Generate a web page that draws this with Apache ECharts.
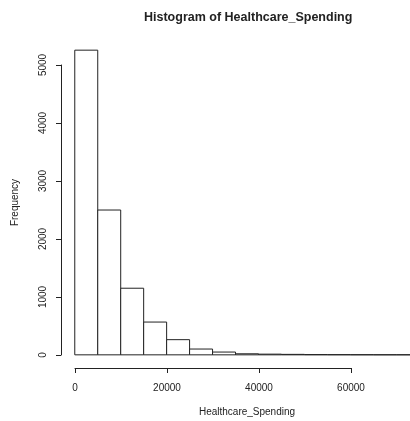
<!DOCTYPE html>
<html>
<head>
<meta charset="utf-8">
<script src="https://cdn.jsdelivr.net/npm/echarts@6/dist/echarts.min.js"></script>
<style>
  html, body { margin: 0; padding: 0; background: #fff; }
  #main { width: 410px; height: 421px; }
</style>
</head>
<body>
<div id="main"></div>
<script>
// histogram bins (break points) and counts
const breaks = [0, 5000, 10000, 15000, 20000, 25000, 30000, 35000, 40000, 45000, 50000, 55000, 60000, 65000, 70000, 75000]
const counts = [5260, 2500, 1150, 566, 262, 100, 48, 18, 12, 8, 4, 3, 2, 1, 1]

const titleText = 'Histogram of Healthcare_Spending'
const xName = 'Healthcare_Spending'
const yName = 'Frequency'

const ink = '#222'
const font = 'Liberation Sans, Arial, sans-serif'

const bins = counts.map((c, i) => [breaks[i], breaks[i + 1], c])

const chart = echarts.init(document.getElementById('main'))

const option = {
  animation: false,
  backgroundColor: '#fff',
  title: {
    text: titleText,
    left: 139,
    top: 6,
    textStyle: { fontFamily: font, fontSize: 12.5, fontWeight: 'bold', color: ink }
  },
  grid: [
    // plot region (R adds 4% to both ranges)
    { left: 61, right: -23, top: 38, bottom: 54, outerBoundsMode: 'none', containLabel: false },
    // x axis drawn below the plot, only over the tick range
    { left: 75, width: 276, top: 367, height: 1, outerBoundsMode: 'none', containLabel: false },
    // y axis drawn left of the plot, only over the tick range
    { left: 61, width: 1, top: 65, height: 290, outerBoundsMode: 'none', containLabel: false }
  ],
  xAxis: [
    {
      gridIndex: 0, type: 'value', min: -3000, max: 78000,
      axisLine: { show: false }, axisTick: { show: false }, axisLabel: { show: false },
      splitLine: { show: false },
      name: xName, nameLocation: 'middle', nameGap: 40,
      nameTextStyle: { fontFamily: font, fontSize: 10, color: ink }
    },
    {
      gridIndex: 1, type: 'value', min: 0, max: 60000, interval: 20000,
      axisLine: { show: true, lineStyle: { color: ink, width: 1 } },
      axisTick: { show: true, inside: false, length: 5, lineStyle: { color: ink } },
      axisLabel: { fontFamily: font, fontSize: 10, color: ink, margin: 15, formatter: v => String(v) },
      splitLine: { show: false }
    },
    { gridIndex: 2, type: 'value', show: false }
  ],
  yAxis: [
    {
      gridIndex: 0, type: 'value', min: -210, max: 5470,
      axisLine: { show: false }, axisTick: { show: false }, axisLabel: { show: false },
      splitLine: { show: false },
      name: yName, nameLocation: 'middle', nameGap: 41, nameRotate: 90,
      nameTextStyle: { fontFamily: font, fontSize: 10, color: ink }
    },
    { gridIndex: 1, type: 'value', show: false },
    {
      gridIndex: 2, type: 'value', min: 0, max: 5000, interval: 1000,
      axisLine: { show: true, lineStyle: { color: ink, width: 1 } },
      axisTick: { show: true, inside: false, length: 5, lineStyle: { color: ink } },
      axisLabel: { fontFamily: font, fontSize: 10, color: ink, rotate: 90, margin: 13, formatter: v => String(v) },
      splitLine: { show: false }
    }
  ],
  series: [
    {
      type: 'custom',
      xAxisIndex: 0,
      yAxisIndex: 0,
      data: bins,
      renderItem: (params, api) => {
        const p0 = api.coord([api.value(0), 0])
        const p1 = api.coord([api.value(1), api.value(2)])
        return {
          type: 'rect',
          shape: { x: p0[0], y: p1[1], width: p1[0] - p0[0], height: p0[1] - p1[1] },
          style: { fill: '#fff', stroke: ink, lineWidth: 1 }
        }
      }
    }
  ]
}

chart.setOption(option)
</script>
</body>
</html>
